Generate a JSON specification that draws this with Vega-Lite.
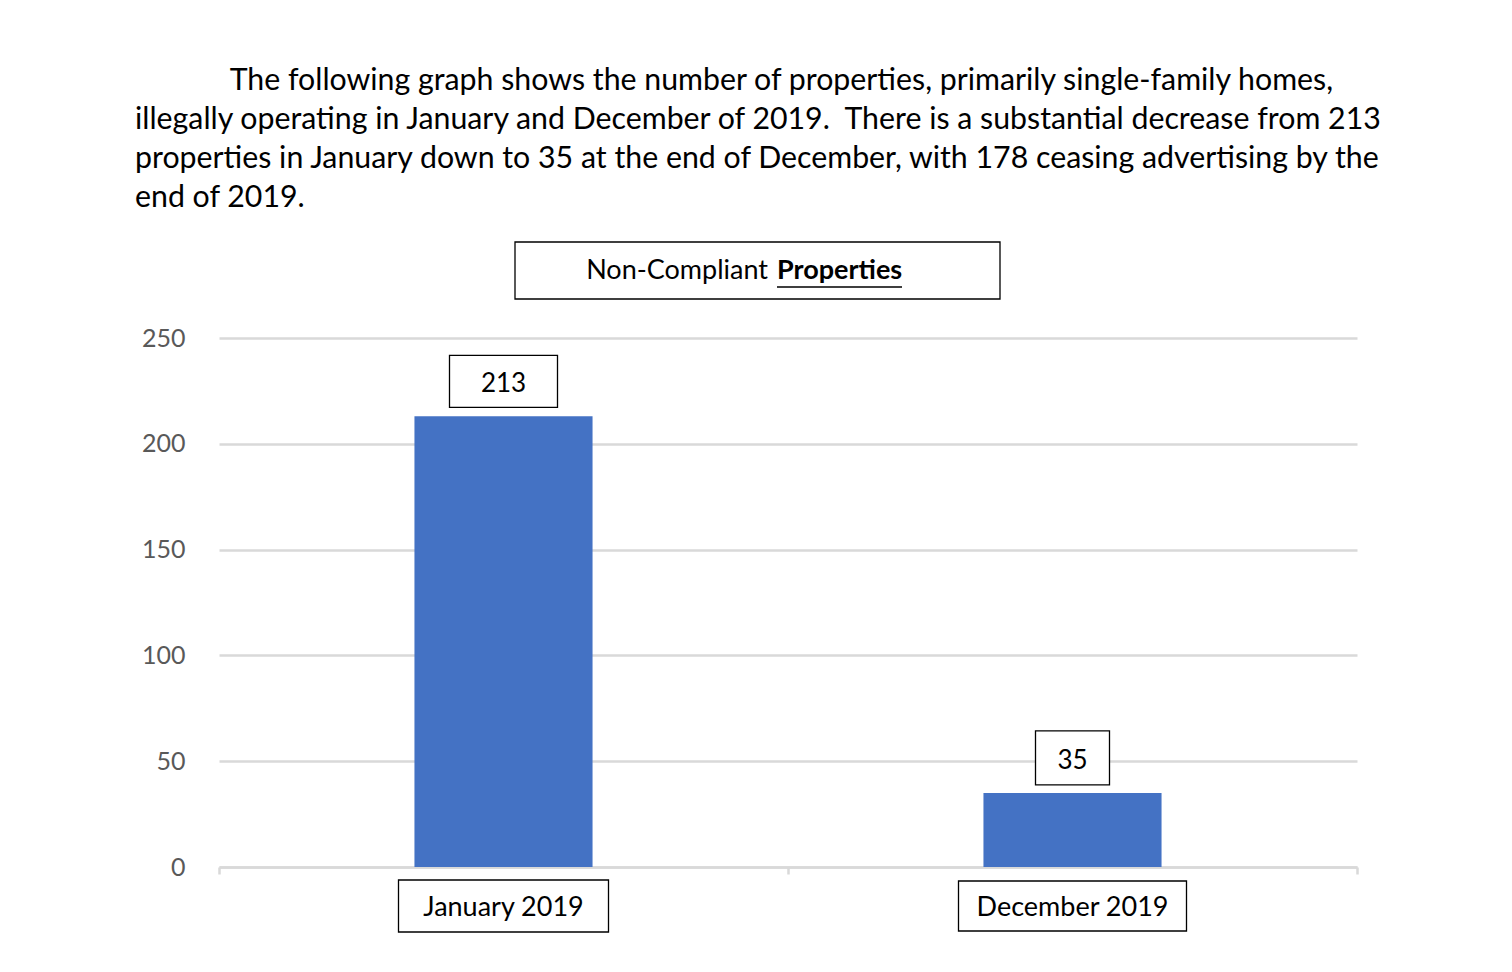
{
  "$schema": "https://vega.github.io/schema/vega-lite/v6.json",
  "width": 1138,
  "height": 529,
  "autosize": {"type": "none"},
  "padding": {"left": 219, "top": 338, "right": 155, "bottom": 105},
  "background": "white",
  "title": {
    "text": [
      "\u200b\u2003\u2003\u2003\u2003\u2009The following graph shows the number of properties, primarily single-family homes,",
      "illegally operating in January and December of 2019.\u00a0 There is a substantial decrease from 213",
      "properties in January down to 35 at the end of December, with 178 ceasing advertising by the",
      "end of 2019."
    ],
    "anchor": "start",
    "frame": "group",
    "dx": -84,
    "offset": 26,
    "font": "Lato",
    "fontSize": 30.3,
    "fontWeight": "normal",
    "color": "#000000",
    "lineHeight": 39
  },
  "data": {
    "values": [
      {"month": "January 2019", "count": 213},
      {"month": "December 2019", "count": 35}
    ]
  },
  "config": {
    "view": {"stroke": null},
    "font": "Lato"
  },
  "resolve": {"scale": {"shape": "independent"}},
  "layer": [
    {
      "mark": {"type": "bar", "color": "#4472C4", "width": {"band": 0.313}},
      "encoding": {
        "x": {
          "field": "month",
          "type": "nominal",
          "sort": null,
          "scale": {"paddingInner": 0, "paddingOuter": 0},
          "axis": {
            "title": null,
            "labels": false,
            "domainColor": "#d9d9d9",
            "domainWidth": 2.5,
            "ticks": true,
            "tickBand": "extent",
            "tickColor": "#d9d9d9",
            "tickWidth": 2.5,
            "tickSize": 7,
            "grid": false
          }
        },
        "y": {
          "field": "count",
          "type": "quantitative",
          "scale": {"domain": [0, 250], "nice": false},
          "axis": {
            "title": null,
            "values": [0, 50, 100, 150, 200, 250],
            "domain": false,
            "ticks": false,
            "grid": true,
            "gridColor": "#d9d9d9",
            "gridWidth": 2.5,
            "labelColor": "#595959",
            "labelFont": "Lato",
            "labelFontSize": 25,
            "labelPadding": 34
          }
        }
      }
    },
    {
      "mark": {"type": "point", "filled": true, "fill": "white", "stroke": "#000000", "strokeWidth": 1.3, "opacity": 1, "size": 4, "yOffset": -35},
      "encoding": {
        "x": {"field": "month", "type": "nominal", "sort": null},
        "y": {"field": "count", "type": "quantitative"},
        "shape": {
          "field": "month",
          "type": "nominal",
          "legend": null,
          "scale": {
            "domain": ["January 2019", "December 2019"],
            "range": ["M-54,-26H54V26H-54Z", "M-37,-27H37V27H-37Z"]
          }
        }
      }
    },
    {
      "mark": {"type": "text", "font": "Lato", "fontSize": 26, "color": "#000000", "baseline": "middle", "align": "center", "dy": -32},
      "encoding": {
        "x": {"field": "month", "type": "nominal", "sort": null},
        "y": {"field": "count", "type": "quantitative"},
        "text": {"field": "count", "type": "quantitative"}
      }
    },
    {
      "mark": {"type": "point", "filled": true, "fill": "white", "stroke": "#000000", "strokeWidth": 1.3, "opacity": 1, "size": 4, "yOffset": 39},
      "encoding": {
        "x": {"field": "month", "type": "nominal", "sort": null},
        "y": {"datum": 0},
        "shape": {
          "field": "month",
          "type": "nominal",
          "legend": null,
          "scale": {
            "domain": ["January 2019", "December 2019"],
            "range": ["M-105,-26H105V26H-105Z", "M-114,-25H114V25H-114Z"]
          }
        }
      }
    },
    {
      "mark": {"type": "text", "font": "Lato", "fontSize": 27, "color": "#000000", "baseline": "middle", "align": "center", "dy": 41},
      "encoding": {
        "x": {"field": "month", "type": "nominal", "sort": null},
        "y": {"datum": 0},
        "text": {"field": "month", "type": "nominal"}
      }
    },
    {
      "data": {"values": [{"label": "Non-Compliant Properties"}]},
      "mark": {"type": "point", "filled": true, "fill": "white", "stroke": "#000000", "strokeWidth": 1.3, "opacity": 1, "size": 4, "shape": "M-242.5,-28.5H242.5V28.5H-242.5Z M19.5,16.5H144.5", "xOffset": -30.5, "yOffset": -67.5},
      "encoding": {
        "y": {"datum": 250}
      }
    },
    {
      "data": {"values": [{"label": "Non-Compliant"}]},
      "mark": {"type": "text", "font": "Lato", "fontSize": 27, "color": "#000000", "baseline": "middle", "align": "right", "dx": -20, "dy": -67},
      "encoding": {
        "y": {"datum": 250},
        "text": {"field": "label", "type": "nominal"}
      }
    },
    {
      "data": {"values": [{"label": "Properties"}]},
      "mark": {"type": "text", "font": "Lato", "fontSize": 27, "fontWeight": "bold", "color": "#000000", "baseline": "middle", "align": "left", "dx": -11, "dy": -67},
      "encoding": {
        "y": {"datum": 250},
        "text": {"field": "label", "type": "nominal"}
      }
    }
  ]
}
